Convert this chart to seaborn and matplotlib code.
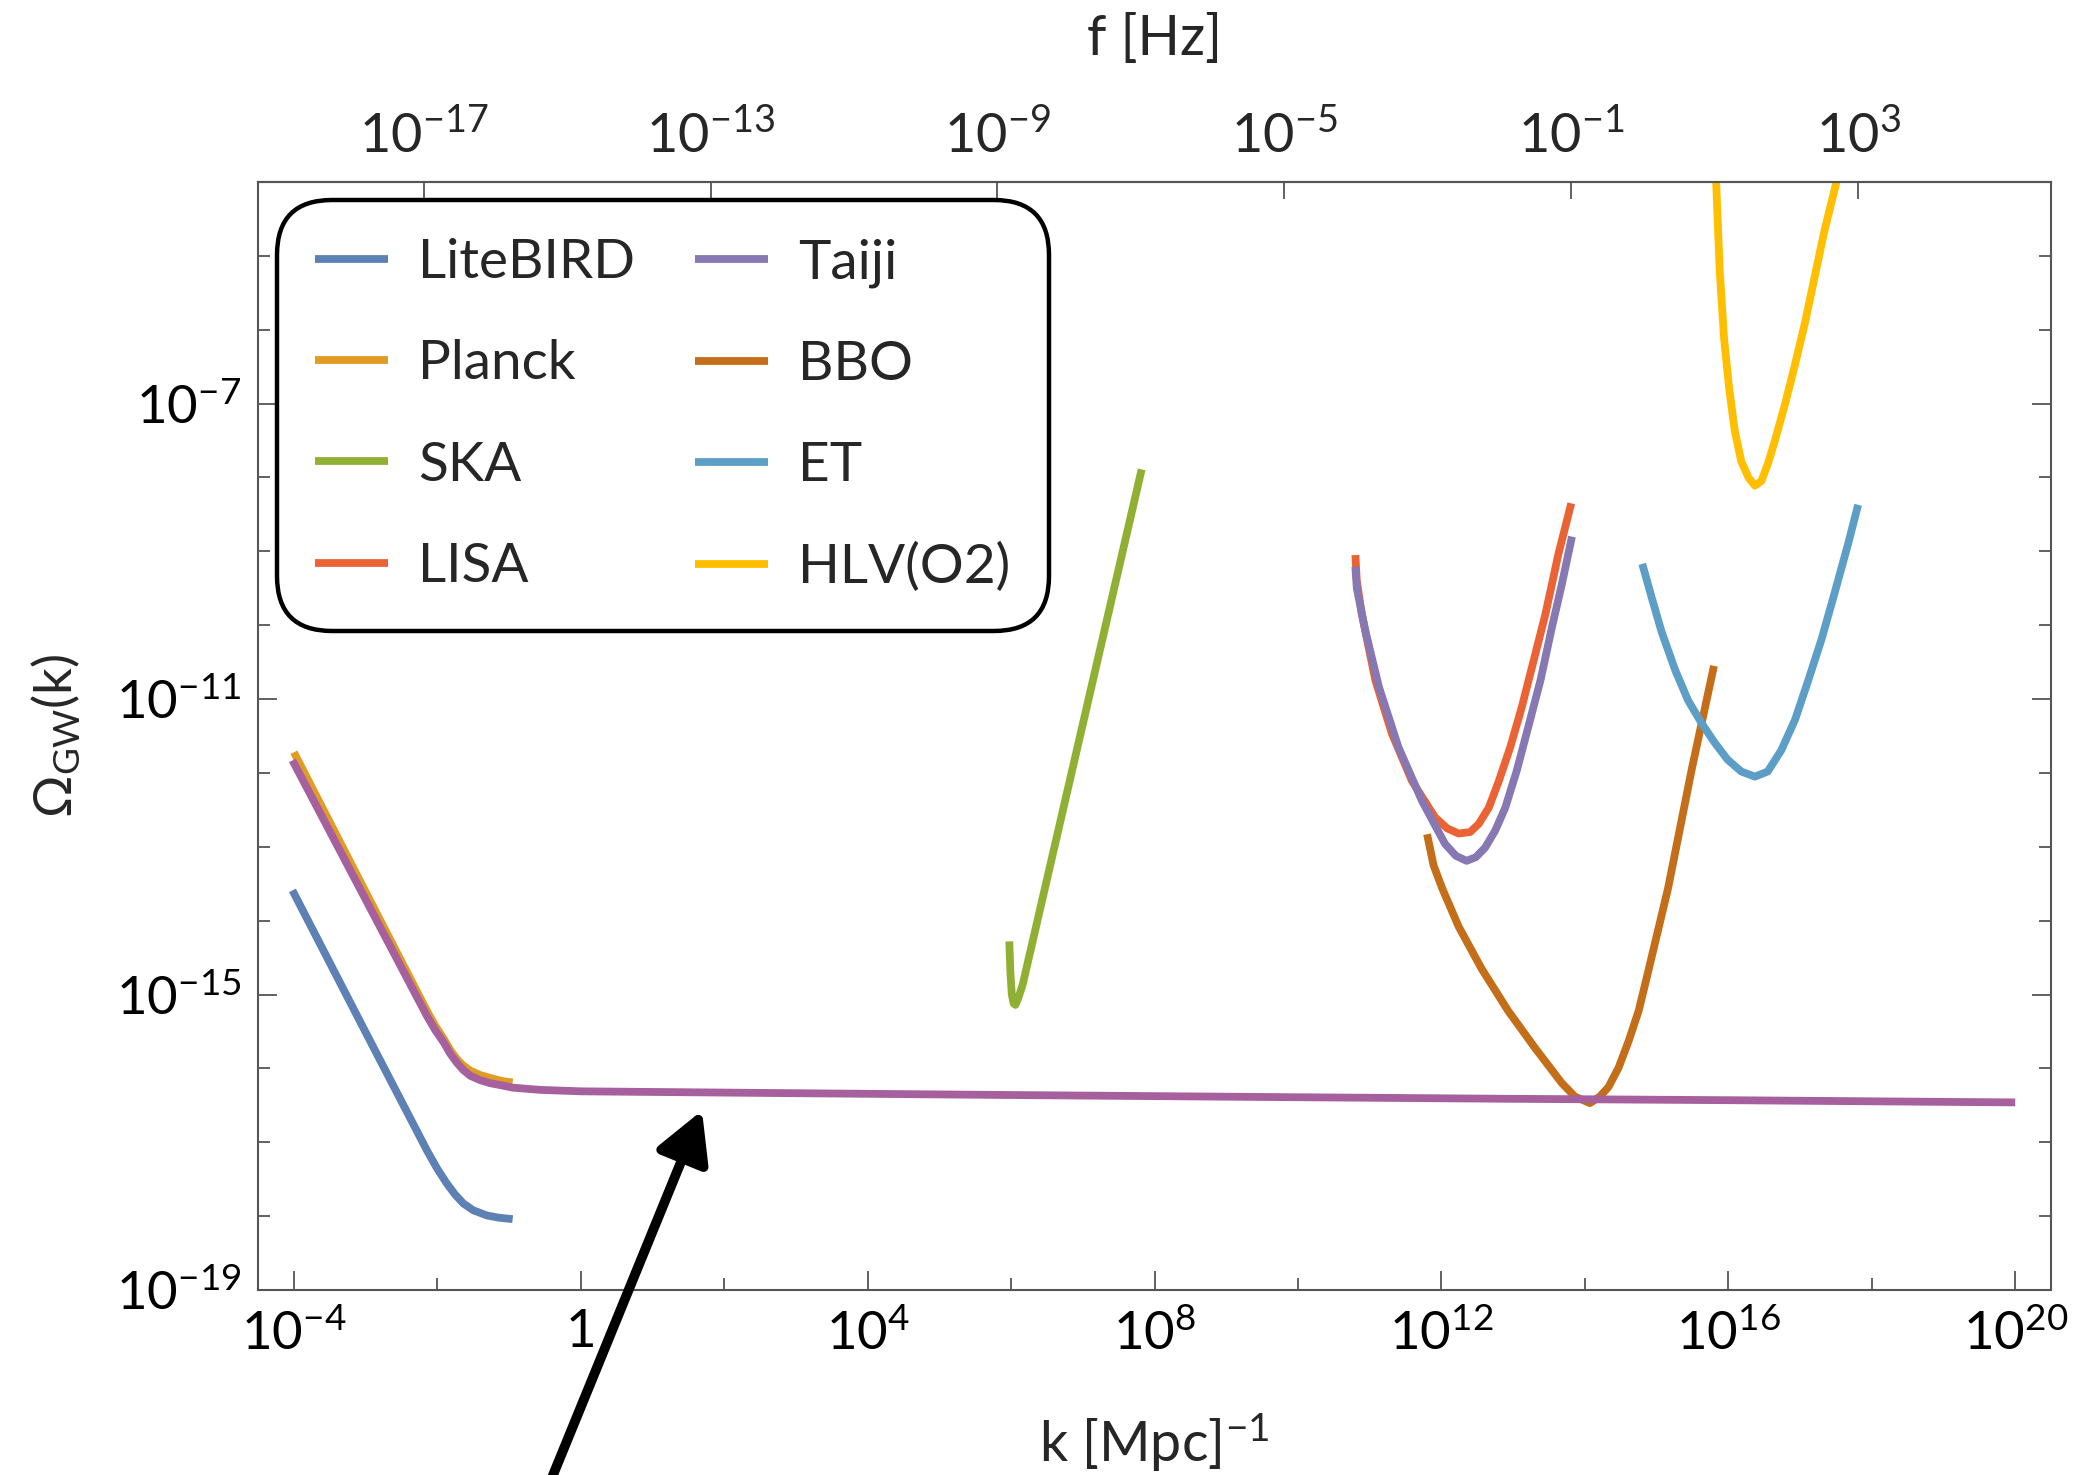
import numpy as np
import pandas as pd
import matplotlib
matplotlib.use("Agg")
import matplotlib.pyplot as plt
import seaborn as sns
from matplotlib.ticker import FixedLocator, FixedFormatter, NullLocator, NullFormatter
from matplotlib.lines import Line2D

# ---------------- data (log10 k [Mpc^-1], log10 Omega_GW) ----------------
litebird_logk = [-4.02, -3.0, -2.145, -2.0, -1.866, -1.75, -1.635, -1.5, -1.31, -1.15, -0.95]
litebird_logo = [-13.59, -15.51, -17.11, -17.36, -17.56, -17.71, -17.83, -17.92, -17.99, -18.02, -18.04]

planck_logk = [-4.0, -3.0, -2.145, -2.03, -1.91, -1.82, -1.73, -1.64, -1.54, -1.40, -1.26, -1.10, -0.95]
planck_logo = [-11.72, -13.61, -15.22, -15.42, -15.60, -15.75, -15.87, -15.96, -16.03, -16.09, -16.13, -16.17, -16.19]

ska_logk = [5.975, 5.99, 6.01, 6.035, 6.06, 6.10, 6.16, 7.82]
ska_logo = [-14.28, -14.70, -15.00, -15.12, -15.14, -15.05, -14.87, -7.89]

lisa_logk = [10.80, 10.82, 10.89, 11.08, 11.31, 11.59, 11.91, 12.08, 12.24, 12.40, 12.52, 12.66, 12.80,
             12.96, 13.12, 13.28, 13.45, 13.63, 13.81]
lisa_logo = [-9.05, -9.40, -9.85, -10.75, -11.47, -12.11, -12.60, -12.75, -12.82, -12.80, -12.69, -12.47, -12.11,
             -11.65, -11.11, -10.50, -9.85, -9.04, -8.35]

taiji_logk = [10.80, 10.82, 10.94, 11.13, 11.40, 11.73, 12.05, 12.20, 12.35, 12.48, 12.61, 12.75, 12.89,
              13.05, 13.21, 13.38, 13.54, 13.68, 13.82]
taiji_logo = [-9.21, -9.50, -10.08, -10.84, -11.65, -12.38, -12.96, -13.12, -13.19, -13.14, -13.01, -12.78, -12.47,
              -11.97, -11.38, -10.75, -10.03, -9.44, -8.80]

bbo_logk = [11.80, 11.89, 12.01, 12.24, 12.56, 12.93, 13.31, 13.68, 13.86, 14.07, 14.21, 14.33, 14.47, 14.61,
            14.75, 14.88, 15.16, 15.49, 15.80]
bbo_logo = [-12.83, -13.25, -13.56, -14.08, -14.65, -15.22, -15.73, -16.20, -16.38, -16.47, -16.38, -16.25, -15.99,
            -15.63, -15.22, -14.70, -13.56, -11.95, -10.55]

et_logk = [14.80, 14.93, 15.07, 15.26, 15.44, 15.63, 15.81, 15.99, 16.18, 16.37, 16.55, 16.74, 16.93, 17.11,
           17.30, 17.48, 17.67, 17.81]
et_logo = [-9.17, -9.62, -10.09, -10.61, -11.02, -11.33, -11.59, -11.82, -11.98, -12.05, -11.98, -11.69, -11.28,
           -10.76, -10.19, -9.57, -8.90, -8.37]

hlv_logk = [15.83, 15.88, 15.94, 16.01, 16.09, 16.18, 16.28, 16.37, 16.46, 16.55, 16.65, 16.79, 16.93, 17.07,
            17.20, 17.34, 17.51]
hlv_logo = [-3.99, -5.20, -6.11, -6.78, -7.37, -7.78, -8.00, -8.11, -8.05, -7.82, -7.50, -7.01, -6.47, -5.90,
            -5.30, -4.66, -3.99]

theory_logk = [-4.02, -2.145, -2.03, -1.91, -1.82, -1.73, -1.64, -1.54, -1.40, -1.26, -1.10, -0.95, -0.57,
               0.0, 2.36, 6.0, 10.0, 12.8, 16.0, 20.0]
theory_logo = [-11.83, -15.29, -15.48, -15.65, -15.80, -15.92, -16.02, -16.10, -16.16, -16.20, -16.23, -16.26, -16.29,
               -16.31, -16.33, -16.36, -16.39, -16.41, -16.43, -16.46]

detector_names = ["LiteBIRD", "Planck", "SKA", "LISA", "Taiji", "BBO", "ET", "HLV(O2)"]
detector_colors = ["#5E81B5", "#E19C24", "#8FB032", "#EB6235", "#8778B3", "#C56E1A", "#5D9EC7", "#FFBF00"]
theory_color = "#A5609D"

x_major_ticks = [1e-4, 1, 1e4, 1e8, 1e12, 1e16, 1e20]
x_major_labels = [r"$10^{-4}$", "1", r"$10^{4}$", r"$10^{8}$", r"$10^{12}$", r"$10^{16}$", r"$10^{20}$"]
x_minor_ticks = [1e-2, 1e2, 1e6, 1e10, 1e14, 1e18]
y_major_ticks = [1e-19, 1e-15, 1e-11, 1e-7]
y_major_labels = [r"$10^{-19}$", r"$10^{-15}$", r"$10^{-11}$", r"$10^{-7}$"]
y_minor_ticks = [10.0 ** e for e in range(-18, -3) if e not in (-15, -11, -7)]
f_ticks = [1e-17, 1e-13, 1e-9, 1e-5, 1e-1, 1e3]
f_labels = [r"$10^{-17}$", r"$10^{-13}$", r"$10^{-9}$", r"$10^{-5}$", r"$10^{-1}$", r"$10^{3}$"]
K_TO_HZ = 10 ** -14.81  # f[Hz] = K_TO_HZ * k[Mpc^-1]

# ---------------- build table ----------------
series = {
    "LiteBIRD": (litebird_logk, litebird_logo),
    "Planck": (planck_logk, planck_logo),
    "SKA": (ska_logk, ska_logo),
    "LISA": (lisa_logk, lisa_logo),
    "Taiji": (taiji_logk, taiji_logo),
    "BBO": (bbo_logk, bbo_logo),
    "ET": (et_logk, et_logo),
    "HLV(O2)": (hlv_logk, hlv_logo),
}
rows = []
for name in detector_names:
    lk, lo = series[name]
    for a, b in zip(lk, lo):
        rows.append({"detector": name, "k": 10.0 ** a, "omega": 10.0 ** b})
df = pd.DataFrame(rows)
df_th = pd.DataFrame({"k": 10.0 ** np.array(theory_logk), "omega": 10.0 ** np.array(theory_logo)})

# ---------------- style ----------------
sns.set_theme(style="ticks")
plt.rcParams["font.family"] = ["Lato", "DejaVu Sans"]
plt.rcParams["mathtext.fontset"] = "custom"
plt.rcParams["mathtext.rm"] = "Lato"
plt.rcParams["mathtext.it"] = "Lato:italic"
plt.rcParams["mathtext.bf"] = "Lato:bold"
plt.rcParams["mathtext.fallback"] = "stixsans"
plt.rcParams["lines.solid_joinstyle"] = "round"
plt.rcParams["lines.solid_capstyle"] = "butt"

fig = plt.figure(figsize=(20.91, 14.75), dpi=100)
ax = fig.add_axes([0.1234, 0.1254, 0.9809 - 0.1234, 0.8766 - 0.1254])
ax.set_xscale("log")
ax.set_yscale("log")

LW = 5.6
palette = dict(zip(detector_names, detector_colors))
sns.lineplot(data=df, x="k", y="omega", hue="detector", hue_order=detector_names, palette=palette,
             estimator=None, sort=False, lw=LW, ax=ax, legend=False)
sns.lineplot(data=df_th, x="k", y="omega", color=theory_color, estimator=None, sort=False,
             lw=LW, ax=ax, legend=False)
for ln in ax.get_lines():
    ln.set_solid_joinstyle("round")

ax.set_xlim(10 ** -4.5, 10 ** 20.5)
ax.set_ylim(1e-19, 10 ** -4.0)

# ticks
TC = "#555555"
ax.xaxis.set_major_locator(FixedLocator(x_major_ticks))
ax.xaxis.set_major_formatter(FixedFormatter(x_major_labels))
ax.xaxis.set_minor_locator(FixedLocator(x_minor_ticks))
ax.xaxis.set_minor_formatter(NullFormatter())
ax.yaxis.set_major_locator(FixedLocator(y_major_ticks))
ax.yaxis.set_major_formatter(FixedFormatter(y_major_labels))
ax.yaxis.set_minor_locator(FixedLocator(y_minor_ticks))
ax.yaxis.set_minor_formatter(NullFormatter())
ax.tick_params(which="both", direction="in", top=False, bottom=True, left=True, right=True,
               color=TC, width=1.3, labelsize=38, labelcolor="black")
ax.tick_params(which="major", length=13.5)
ax.tick_params(which="minor", length=8.5)
ax.tick_params(axis="x", which="major", pad=14)
ax.tick_params(axis="y", which="major", pad=12)
for sp in ax.spines.values():
    sp.set_color(TC)
    sp.set_linewidth(1.5)

secax = ax.secondary_xaxis("top", functions=(lambda k: k * K_TO_HZ, lambda f: f / K_TO_HZ))
secax.xaxis.set_major_locator(FixedLocator(f_ticks))
secax.xaxis.set_major_formatter(FixedFormatter(f_labels))
secax.xaxis.set_minor_locator(NullLocator())
secax.tick_params(direction="in", length=12, width=1.3, color=TC, labelsize=39, pad=14)
secax.spines["top"].set_color(TC)
secax.spines["top"].set_linewidth(1.5)
secax.set_xlabel("f [Hz]", fontsize=40, labelpad=40)

ax.set_xlabel(r"k [Mpc]$^{-1}$", fontsize=40, labelpad=38)
ax.set_ylabel(r"Ω$_{\mathrm{GW}}$(k)", fontsize=38, labelpad=24)

# legend
handles = [Line2D([0], [0], color=c, lw=LW) for c in detector_colors]
leg = ax.legend(handles, detector_names, ncol=2, loc="upper left", bbox_to_anchor=(0.0106, 0.9838),
                bbox_transform=ax.transAxes, fontsize=39.5, handlelength=1.32, handletextpad=0.55,
                columnspacing=1.1, labelspacing=0.95, borderpad=0.7, borderaxespad=0,
                frameon=True, fancybox=True, framealpha=1)
fr = leg.get_frame()
fr.set_edgecolor("black")
fr.set_linewidth(3.2)
fr.set_boxstyle("round,pad=0,rounding_size=1.0")

# arrow pointing to the theory curve
ax.annotate("", xy=(10 ** 1.69, 10 ** -16.57), xycoords="data",
            xytext=(0.2616, -0.01), textcoords="figure fraction",
            arrowprops=dict(arrowstyle="-|>,head_length=0.6,head_width=0.33", lw=7,
                            color="black", shrinkA=0, shrinkB=0, mutation_scale=50),
            annotation_clip=False)

fig.savefig("out.png", dpi=100)
